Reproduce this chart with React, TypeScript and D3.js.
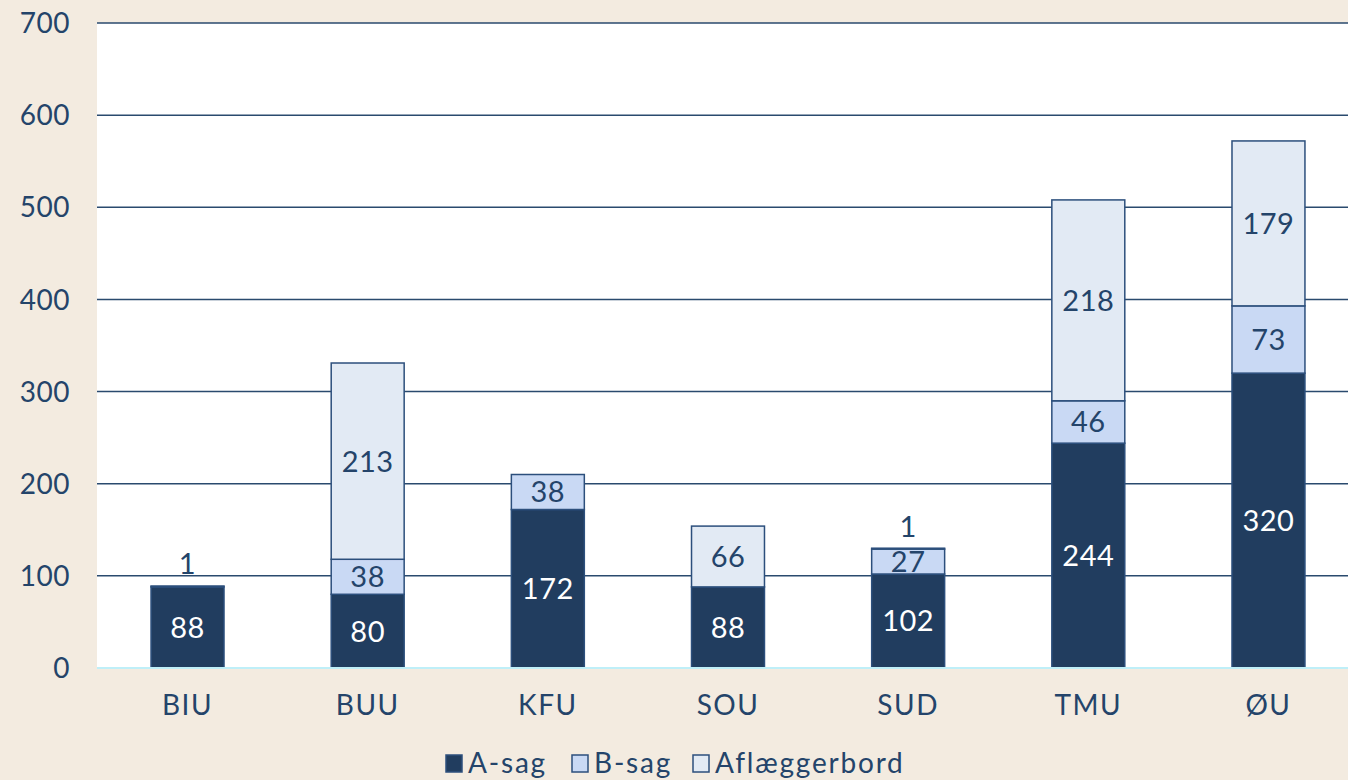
import React from 'react';
import * as d3 from 'd3';

const categories = ['BIU', 'BUU', 'KFU', 'SOU', 'SUD', 'TMU', 'ØU'];
const aSag = [88, 80, 172, 88, 102, 244, 320];
const bSag = [1, 38, 38, 0, 27, 46, 73];
const aflaeggerbord = [0, 213, 0, 66, 1, 218, 179];
const seriesNames = ['A-sag', 'B-sag', 'Aflæggerbord'];
const yTicks = [0, 100, 200, 300, 400, 500, 600, 700];

const W = 1348;
const H = 780;
const FONT = 'Lato, "Open Sans", sans-serif';
const TEXT = '#24446a';
const fills = ['#213d5f', '#c9d9f4', '#e2eaf4'];

const App = () => {
  const rows = categories.map((c, i) => ({
    cat: c,
    'A-sag': aSag[i],
    'B-sag': bSag[i],
    Aflæggerbord: aflaeggerbord[i],
  }));
  const stacked = d3.stack<any>().keys(seriesNames)(rows);

  const x = d3.scaleBand().domain(categories).range([97, 1359]).paddingInner(0.595).paddingOuter(0.3);
  const y = d3.scaleLinear().domain([0, 700]).range([668, 23]);
  const bw = x.bandwidth();

  return (
    <svg width={W} height={H} style={{ display: 'block', position: 'absolute', left: 0, top: 0 }}>
      <rect width={W} height={H} fill="#f3ebe0" />
      <rect x={97} y={23} width={W - 97} height={668 - 23} fill="#ffffff" />
      {yTicks.map(t => (
        <g key={t}>
          {t > 0 && <line x1={97} x2={W} y1={y(t)} y2={y(t)} stroke="#2a4a6e" strokeWidth={1.5} />}
          <text x={70} y={y(t)} dy="0.36em" textAnchor="end" fontFamily={FONT} fontSize={28} fill={TEXT} letterSpacing={0.5}>{t}</text>
        </g>
      ))}
      {stacked.map((s, si) => (
        <g key={s.key}>
          {s.map((d, i) => {
            const v = d[1] - d[0];
            if (v <= 0) return null;
            const x0 = x(categories[i])!;
            const top = y(d[1]);
            const h = y(d[0]) - y(d[1]);
            return (
              <rect key={i} x={x0} y={top} width={bw} height={h} fill={fills[si]} stroke="#2c4f7c" strokeWidth={1.5} />
            );
          })}
        </g>
      ))}
      {stacked.map((s, si) => (
        <g key={s.key + 'l'}>
          {s.map((d, i) => {
            const v = d[1] - d[0];
            if (v <= 0) return null;
            const cx = x(categories[i])! + bw / 2;
            const small = v < 10;
            const cy = small ? y(d[1]) - 22 : (y(d[0]) + y(d[1])) / 2;
            return (
              <text key={i} x={cx} y={cy} dy="0.36em" textAnchor="middle" fontFamily={FONT} fontSize={29}
                letterSpacing={0.5} fill={si === 0 && !small ? '#ffffff' : TEXT}>{v}</text>
            );
          })}
        </g>
      ))}
      <line x1={97} x2={W} y1={y(0)} y2={y(0)} stroke="#bfeff8" strokeWidth={2} />
      {categories.map(c => (
        <text key={c} x={x(c)! + bw / 2} y={705} dy="0.36em" textAnchor="middle" fontFamily={FONT} fontSize={28}
          letterSpacing={1.5} fill={TEXT}>{c}</text>
      ))}
      <g transform="translate(445,773)">
        {seriesNames.map((n, i) => {
          const offs = [0, 126, 247];
          return (
            <g key={n} transform={`translate(${offs[i]},0)`}>
              <rect x={1} y={-18} width={16} height={17} fill={fills[i]} stroke="#2c4f7c" strokeWidth={1.5} />
              <text x={23} y={0} textAnchor="start" fontFamily={FONT} fontSize={28} letterSpacing={1.8} fill={TEXT}>{n}</text>
            </g>
          );
        })}
      </g>
    </svg>
  );
};

export default App;
